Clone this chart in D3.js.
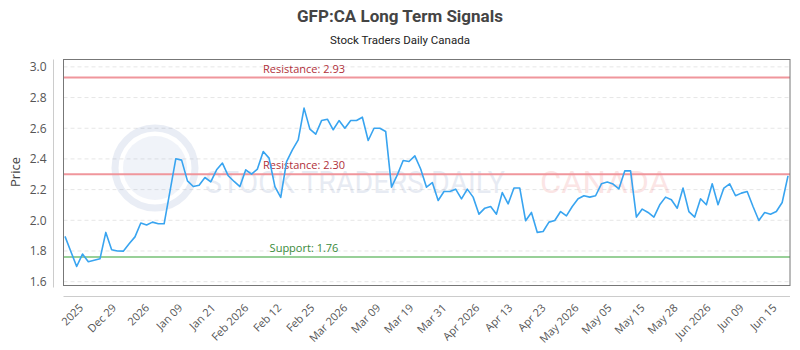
<!DOCTYPE html>
<html><head><meta charset="utf-8">
<script src="https://cdn.jsdelivr.net/npm/d3@7"></script>
<style>
body{margin:0;background:#fff;}
svg{display:block;font-family:"Open Sans",sans-serif;}
</style></head>
<body><svg id="chart" width="800" height="350"></svg>
<script>
const titleText = "GFP:CA Long Term Signals";
const subtitleText = "Stock Traders Daily Canada";
const tickLabels = ["2025","Dec 29","2026","Jan 09","Jan 21","Feb 2026","Feb 12","Feb 25","Mar 2026","Mar 09","Mar 19","Mar 31","Apr 2026","Apr 13","Apr 23","May 2026","May 05","May 15","May 28","Jun 2026","Jun 09","Jun 15"];
const prices = [1.895,1.797,1.699,1.780,1.730,1.740,1.749,1.921,1.808,1.800,1.799,1.847,1.892,1.982,1.969,1.988,1.977,1.977,2.189,2.401,
2.392,2.257,2.220,2.229,2.279,2.251,2.329,2.373,2.290,2.253,2.220,2.329,2.301,2.334,2.448,2.405,2.220,2.149,2.383,2.459,
2.524,2.731,2.594,2.561,2.650,2.659,2.590,2.650,2.600,2.650,2.650,2.672,2.520,2.600,2.600,2.579,2.216,2.296,2.390,2.383,
2.420,2.334,2.216,2.246,2.129,2.188,2.188,2.203,2.140,2.203,2.151,2.040,2.079,2.090,2.040,2.181,2.107,2.210,2.210,1.997,
2.051,1.921,1.927,1.988,1.999,2.057,2.029,2.090,2.140,2.160,2.151,2.160,2.238,2.249,2.236,2.205,2.322,2.322,2.021,2.073,
2.051,2.021,2.101,2.151,2.134,2.079,2.210,2.057,2.021,2.140,2.101,2.238,2.101,2.210,2.238,2.160,2.177,2.188,2.090,1.999,
2.051,2.040,2.057,2.116,2.290];
const yTicks = [1.6,1.8,2.0,2.2,2.4,2.6,2.8,3.0];
const levels = [
  {label:"Resistance: 2.93", value:2.93, kind:"res"},
  {label:"Resistance: 2.30", value:2.30, kind:"res"},
  {label:"Support: 1.76", value:1.76, kind:"sup"}
];

const svg = d3.select("#chart");
const L = 63.5, R = 790, T = 59.5, B = 285.5;

const x = d3.scaleLinear().domain([0, prices.length-1]).range([L+1.5, R-2]);
const y = d3.scaleLinear().domain([1.575, 3.048]).range([B, T]);
const xb = d3.scaleBand().domain(tickLabels).range([L, R]);

// title
svg.append("text").attr("x",400).attr("y",22).attr("text-anchor","middle")
  .attr("font-family","Roboto, sans-serif").attr("font-weight","bold").attr("font-size",17)
  .attr("fill","#444").text(titleText);
svg.append("text").attr("x",400).attr("y",44).attr("text-anchor","middle")
  .attr("font-family","Roboto, sans-serif").attr("font-size",11.5)
  .attr("fill","#222").text(subtitleText);

// gridlines
svg.append("g").selectAll("line").data(yTicks).join("line")
  .attr("x1",L).attr("x2",R).attr("y1",d=>y(d)).attr("y2",d=>y(d))
  .attr("stroke","#e6e6e6").attr("stroke-dasharray","4,3");

// watermark
const wm = svg.append("g").attr("opacity",0.12);
wm.append("circle").attr("cx",155).attr("cy",168).attr("r",40).attr("fill","none").attr("stroke","#5070b0").attr("stroke-width",7);
wm.append("circle").attr("cx",155).attr("cy",168).attr("r",32).attr("fill","#8aa0d0");
wm.append("text").attr("x",205).attr("y",193).attr("font-family","Roboto, sans-serif").attr("font-size",32)
  .attr("textLength",300).attr("lengthAdjust","spacingAndGlyphs").attr("fill","#4060a0").text("STOCK TRADERS DAILY");
wm.append("text").attr("x",540).attr("y",193).attr("font-family","Roboto, sans-serif").attr("font-size",32)
  .attr("textLength",130).attr("lengthAdjust","spacingAndGlyphs").attr("fill","#e03030").text("CANADA");

// level lines
const lv = svg.append("g");
lv.selectAll("line").data(levels).join("line")
  .attr("x1",L).attr("x2",R).attr("y1",d=>y(d.value)).attr("y2",d=>y(d.value))
  .attr("stroke",d=>d.kind==="res"?"#f0969c":"#98d098").attr("stroke-width",2);
lv.selectAll("text").data(levels).join("text")
  .attr("x",304).attr("y",d=>y(d.value)-5).attr("text-anchor","middle")
  .attr("font-size",11).attr("fill",d=>d.kind==="res"?"#b0303a":"#3a8a3a").text(d=>d.label);

// price line
svg.append("path").datum(prices)
  .attr("d", d3.line().x((d,i)=>x(i)).y(d=>y(d)))
  .attr("fill","none").attr("stroke","#38a4f0").attr("stroke-width",1.6).attr("stroke-linejoin","round");

// frame
svg.append("rect").attr("x",L).attr("y",T).attr("width",R-L).attr("height",B-T)
  .attr("fill","none").attr("stroke","#777").attr("stroke-width",1);

// y axis
const ya = svg.append("g").attr("transform","translate(53.5,0)")
  .call(d3.axisLeft(y).tickValues(yTicks).tickFormat(d3.format(".1f")).tickSize(0).tickPadding(7));
ya.select(".domain").attr("stroke","#ccc").attr("d",`M0,${T}V${B+2}`);
ya.selectAll("text").attr("font-size",12).attr("fill","#555").attr("font-family","'Open Sans',sans-serif");

svg.append("text").attr("transform","translate(20,172) rotate(-90)").attr("text-anchor","middle")
  .attr("font-size",13).attr("fill","#444").text("Price");

// x axis
const xa = svg.append("g").attr("transform","translate(0,296.5)")
  .call(d3.axisBottom(xb).tickSize(0).tickPadding(0));
xa.select(".domain").attr("stroke","#ccc").attr("d",`M${L},0H${R}`);
xa.selectAll("text").attr("font-size",11).attr("fill","#555").attr("font-family","'Open Sans',sans-serif")
  .attr("text-anchor","end").attr("dy","0").attr("transform","translate(4,12) rotate(-45)");
</script></body></html>
